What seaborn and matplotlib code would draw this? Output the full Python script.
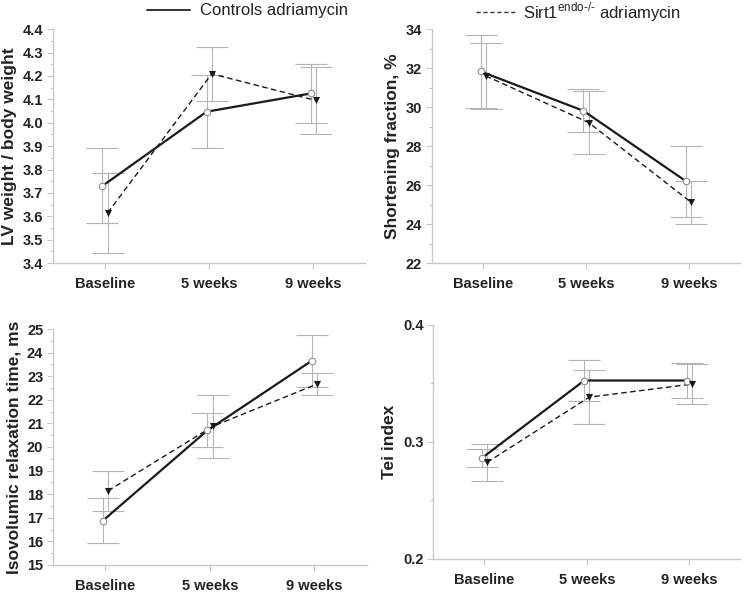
import numpy as np
import pandas as pd
import matplotlib.pyplot as plt
import seaborn as sns
from matplotlib.lines import Line2D
from matplotlib.ticker import MultipleLocator

times = ["Baseline", "5 weeks", "9 weeks"]
groups = ["Controls adriamycin", "Sirt1 adriamycin"]

# means and SEM per panel, [controls, sirt1]
lv_mean = [[3.73, 4.047, 4.125], [3.615, 4.209, 4.095]]
lv_sem = [[0.16, 0.155, 0.125], [0.17, 0.115, 0.145]]

fs_mean = [[31.83, 29.81, 26.19], [31.6, 29.21, 25.11]]
fs_sem = [[1.87, 1.1, 1.8], [1.7, 1.6, 1.1]]

ivrt_mean = [[16.87, 20.70, 23.66], [18.14, 20.87, 22.67]]
ivrt_sem = [[0.95, 0.72, 1.1], [0.85, 1.35, 0.48]]

tei_mean = [[0.2862, 0.3525, 0.3525], [0.2825, 0.3383, 0.3494]]
tei_sem = [[0.0075, 0.0173, 0.015], [0.0155, 0.0232, 0.017]]

panels = [
    ("LV weight / body weight", lv_mean, lv_sem, (3.4, 4.4), 0.1, 0.05),
    ("Shortening fraction, %", fs_mean, fs_sem, (22, 34), 2, 1),
    ("Isovolumic relaxation time, ms", ivrt_mean, ivrt_sem, (15, 25), 1, 0.5),
    ("Tei index", tei_mean, tei_sem, (0.2, 0.4), 0.1, 0.05),
]

axes_pos = [
    [0.071, 0.557, 0.418, 0.394],
    [0.578, 0.557, 0.413, 0.394],
    [0.071, 0.049, 0.420, 0.397],
    [0.580, 0.059, 0.411, 0.394],
]

sns.set_theme(style="ticks")
plt.rcParams['font.family'] = ['Liberation Sans', 'DejaVu Sans']
plt.rcParams['mathtext.fontset'] = 'custom'
plt.rcParams['mathtext.rm'] = 'Liberation Sans'

spine_col = '#c8c8c8'
err_col = '#b4b4b4'
offsets = [-0.025, 0.025]

fig = plt.figure(figsize=(7.47, 5.94), dpi=100)

for (ylabel, means, sems, ylim, major, minor), pos in zip(panels, axes_pos):
    ax = fig.add_axes(pos)
    rows = []
    for g, grp in enumerate(groups):
        for t in range(3):
            rows.append({"x": t + offsets[g], "mean": means[g][t], "sem": sems[g][t], "group": grp})
    df = pd.DataFrame(rows)

    for g, grp in enumerate(groups):
        d = df[df.group == grp]
        ax.errorbar(d["x"], d["mean"], yerr=d["sem"], fmt='none', ecolor=err_col,
                    elinewidth=0.8, capsize=11.5, capthick=0.8, zorder=1)

    sns.lineplot(data=df, x="x", y="mean", hue="group", style="group",
                 palette=['#1a1a1a', '#1a1a1a'], dashes=[(1, 0), (4, 2.5)],
                 markers=False, legend=False, ax=ax, zorder=2)
    for line, lw in zip(ax.get_lines()[-2:], [1.6, 1.0]):
        line.set_linewidth(lw)

    dc = df[df.group == groups[0]]
    ds = df[df.group == groups[1]]
    ax.scatter(dc["x"], dc["mean"], s=22, marker='o', facecolor='white',
               edgecolor='#909090', linewidth=0.8, zorder=3)
    ax.scatter(ds["x"], ds["mean"], s=26, marker='v', color='#1a1a1a',
               linewidth=0, zorder=3)

    ax.set_xlim(-0.5, 2.5)
    ax.set_ylim(*ylim)
    ax.set_xticks(range(3))
    ax.set_xticklabels(times)
    ax.yaxis.set_major_locator(MultipleLocator(major))
    ax.yaxis.set_minor_locator(MultipleLocator(minor))
    if major < 1:
        ax.yaxis.set_major_formatter(plt.FormatStrFormatter('%.1f'))
    ax.set_xlabel("")
    ax.set_ylabel(ylabel, fontsize=12.5, fontweight='bold', color='#222222', labelpad=4)
    for lab in ax.get_xticklabels() + ax.get_yticklabels():
        lab.set_fontweight('bold')
        lab.set_fontsize(10.5)
        lab.set_color('#222222')
    ax.tick_params(axis='both', which='major', length=4, width=0.8, color=spine_col, pad=3)
    ax.tick_params(axis='y', which='minor', length=2.5, width=0.8, color=spine_col)
    ax.tick_params(axis='x', pad=6)
    sns.despine(ax=ax)
    for s in ['left', 'bottom']:
        ax.spines[s].set_color(spine_col)
        ax.spines[s].set_linewidth(1.0)

# legend at the top
fig.add_artist(Line2D([147 / 747, 190 / 747], [1 - 10 / 594] * 2, color='#333333', lw=1.4,
                      transform=fig.transFigure))
fig.text(200 / 747, 1 - 10 / 594, "Controls adriamycin", fontsize=12, va='center', color='#222222')
fig.add_artist(Line2D([476 / 747, 517 / 747], [1 - 12 / 594] * 2, color='#333333', lw=1.0,
                      ls=(0, (3, 2)), transform=fig.transFigure))
fig.text(523 / 747, 1 - 12 / 594, r"Sirt1$^{\mathrm{endo\text{-}/\text{-}}}$ adriamycin",
         fontsize=12, va='center', color='#222222')

fig.savefig("out.png", dpi=100)
